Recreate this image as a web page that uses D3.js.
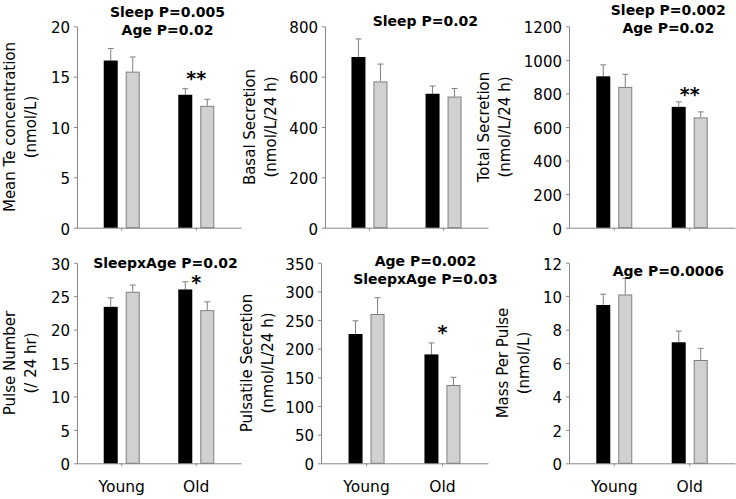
<!DOCTYPE html>
<html><head><meta charset="utf-8">
<script src="https://cdn.jsdelivr.net/npm/d3@7"></script>
<style>
html,body{margin:0;padding:0;background:#fff;}
svg text{font-family:"DejaVu Sans",Verdana,sans-serif;fill:#000;}
</style></head>
<body>
<svg id="chart" width="736" height="499"></svg>
<script>
// ---------- data ----------
const categories = ["Young", "Old"];
const seriesNames = ["Condition 1", "Condition 2"];   // black, gray bars

const meanTeBlack = [16.6, 13.2],  meanTeGray = [15.5, 12.1];
const meanTeErrBlack = [1.2, 0.6], meanTeErrGray = [1.45, 0.65];

const basalBlack = [678, 532],     basalGray = [581, 521];
const basalErrBlack = [72, 31],    basalErrGray = [69, 32];

const totalBlack = [902, 720],     totalGray = [839, 657];
const totalErrBlack = [68, 30],    totalErrGray = [75, 33];

const pulseNumBlack = [23.4, 26.0],   pulseNumGray = [25.65, 22.9];
const pulseNumErrBlack = [1.35, 1.15], pulseNumErrGray = [1.0, 1.25];

const pulsatileBlack = [225.6, 190],  pulsatileGray = [260.5, 136.6];
const pulsatileErrBlack = [23, 20],   pulsatileErrGray = [28.5, 13.5];

const massBlack = [9.47, 7.24],    massGray = [10.1, 6.18];
const massErrBlack = [0.65, 0.67], massErrGray = [0.96, 0.7];

const meanTeTicks = [0, 5, 10, 15, 20];
const basalTicks = [0, 200, 400, 600, 800];
const totalTicks = [0, 200, 400, 600, 800, 1000, 1200];
const pulseNumTicks = [0, 5, 10, 15, 20, 25, 30];
const pulsatileTicks = [0, 50, 100, 150, 200, 250, 300, 350];
const massTicks = [0, 2, 4, 6, 8, 10, 12];

const meanTeTitle = ["Mean Te concentration", "(nmol/L)"];
const basalTitle = ["Basal Secretion", "(nmol/L/24 h)"];
const totalTitle = ["Total Secretion", "(nmol/L/24 h)"];
const pulseNumTitle = ["Pulse Number", "(/ 24 hr)"];
const pulsatileTitle = ["Pulsatile Secretion", "(nmol/L/24 h)"];
const massTitle = ["Mass Per Pulse", "(nmol/L)"];

const meanTeNote = ["Sleep P=0.005", "Age P=0.02"];
const basalNote = ["Sleep P=0.02"];
const totalNote = ["Sleep P=0.002", "Age P=0.02"];
const pulseNumNote = ["SleepxAge P=0.02"];
const pulsatileNote = ["Age P=0.002", "SleepxAge P=0.03"];
const massNote = ["Age P=0.0006"];

// significance stars above the "Old" group: [label, value at baseline]
const meanTeStar = ["**", 14.2];
const totalStar = ["**", 755];
const pulseNumStar = ["*", 26.1];
const pulsatileStar = ["*", 217];

// ---------- panels (data + layout) ----------
const panels = [
  {black: meanTeBlack, gray: meanTeGray, eb: meanTeErrBlack, eg: meanTeErrGray, ticks: meanTeTicks, title: meanTeTitle, note: meanTeNote, star: meanTeStar, xLabels: false},
  {black: basalBlack, gray: basalGray, eb: basalErrBlack, eg: basalErrGray, ticks: basalTicks, title: basalTitle, note: basalNote, star: null, xLabels: false},
  {black: totalBlack, gray: totalGray, eb: totalErrBlack, eg: totalErrGray, ticks: totalTicks, title: totalTitle, note: totalNote, star: totalStar, xLabels: false},
  {black: pulseNumBlack, gray: pulseNumGray, eb: pulseNumErrBlack, eg: pulseNumErrGray, ticks: pulseNumTicks, title: pulseNumTitle, note: pulseNumNote, star: pulseNumStar, xLabels: true},
  {black: pulsatileBlack, gray: pulsatileGray, eb: pulsatileErrBlack, eg: pulsatileErrGray, ticks: pulsatileTicks, title: pulsatileTitle, note: pulsatileNote, star: pulsatileStar, xLabels: true},
  {black: massBlack, gray: massGray, eb: massErrBlack, eg: massErrGray, ticks: massTicks, title: massTitle, note: massNote, star: null, xLabels: true}
];
const layout = [
  {ax: 77,  ae: 241, top: 26.3,  bot: 227.7, tx: 14.5, nx: 167.5, ny: 16.5},
  {ax: 325, ae: 488, top: 26.3,  bot: 227.7, tx: 255,  nx: 425.3, ny: 26},
  {ax: 569, ae: 735, top: 26.3,  bot: 227.7, tx: 489,  nx: 668.3, ny: 15},
  {ax: 77,  ae: 241, top: 262.7, bot: 463.3, tx: 15,   nx: 165.5, ny: 267.5},
  {ax: 321, ae: 488, top: 262.7, bot: 463.3, tx: 252,  nx: 425.5, ny: 266},
  {ax: 569, ae: 735, top: 262.7, bot: 463.3, tx: 508,  nx: 668.3, ny: 275.5}
];

const AXIS = "#868686", GRAYFILL = "#d1d1d1", GRAYSTROKE = "#7f7f7f", ERR = "#7f7f7f";
const svg = d3.select("#chart");

panels.forEach((p, i) => {
  const L = layout[i];
  const g = svg.append("g");
  const y = d3.scaleLinear().domain([p.ticks[0], p.ticks[p.ticks.length - 1]]).range([L.bot, L.top]);
  const x = d3.scaleBand().domain(categories).range([L.ax, L.ae]).paddingInner(0).paddingOuter(0.1);
  const xs = d3.scaleBand().domain(seriesNames).range([-18, 18]).paddingInner(8 / 22).paddingOuter(0);

  // y axis
  const ya = g.append("g").attr("transform", `translate(${L.ax},0)`)
    .call(d3.axisLeft(y).tickValues(p.ticks).tickSize(3).tickSizeOuter(0).tickPadding(4).tickFormat(d3.format("d")));
  ya.select(".domain").attr("stroke", AXIS);
  ya.selectAll(".tick line").attr("stroke", AXIS);
  ya.selectAll(".tick text").attr("font-size", 15).attr("font-family", "DejaVu Sans").attr("fill", "#000").attr("dy", "0.42em");

  // x axis
  const xa = g.append("g").attr("transform", `translate(0,${L.bot})`)
    .call(d3.axisBottom(x).tickSize(3).tickSizeOuter(0).tickPadding(15));
  xa.select(".domain").attr("stroke", AXIS);
  xa.selectAll(".tick line").attr("stroke", AXIS);
  xa.selectAll(".tick text").attr("font-size", 15.5).attr("font-family", "DejaVu Sans").attr("fill", "#000")
    .attr("y", 0).attr("dy", 0).attr("transform", `translate(0,${492 - L.bot})`)
    .style("display", p.xLabels ? null : "none");

  // bars
  const rows = [];
  categories.forEach((c, k) => {
    rows.push({cat: c, s: seriesNames[0], v: p.black[k], e: p.eb[k]});
    rows.push({cat: c, s: seriesNames[1], v: p.gray[k], e: p.eg[k]});
  });
  const cx = d => x(d.cat) + x.bandwidth() / 2 + xs(d.s);

  // error bars (drawn behind bars; upward only)
  const eg = g.append("g");
  rows.forEach(d => {
    const mx = cx(d) + xs.bandwidth() / 2;
    eg.append("line").attr("x1", mx).attr("x2", mx).attr("y1", y(d.v)).attr("y2", y(d.v + d.e))
      .attr("stroke", ERR).attr("stroke-width", 1);
    eg.append("line").attr("x1", mx - 3).attr("x2", mx + 3).attr("y1", y(d.v + d.e)).attr("y2", y(d.v + d.e))
      .attr("stroke", ERR).attr("stroke-width", 1);
  });

  g.append("g").selectAll("rect").data(rows).join("rect")
    .attr("x", d => cx(d) + (d.s === seriesNames[1] ? 0.5 : 0))
    .attr("y", d => y(d.v) + (d.s === seriesNames[1] ? 0.5 : 0))
    .attr("width", d => xs.bandwidth() - (d.s === seriesNames[1] ? 1 : 0))
    .attr("height", d => y(0) - y(d.v) - (d.s === seriesNames[1] ? 0.5 : 0))
    .attr("fill", d => d.s === seriesNames[0] ? "#000" : GRAYFILL)
    .attr("stroke", d => d.s === seriesNames[0] ? "none" : GRAYSTROKE)
    .attr("stroke-width", 1);

  // axis title (rotated, two lines)
  const cy = (L.top + L.bot) / 2;
  p.title.forEach((t, j) => {
    g.append("text").attr("transform", `translate(${L.tx + j * 21},${cy}) rotate(-90)`)
      .attr("text-anchor", "middle").attr("font-size", 15).text(t);
  });

  // statistics note
  p.note.forEach((t, j) => {
    g.append("text").attr("x", L.nx).attr("y", L.ny + j * 18)
      .attr("text-anchor", "middle").attr("font-size", 14).attr("font-weight", "bold").text(t);
  });

  // stars
  if (p.star) {
    g.append("text").attr("x", x("Old") + x.bandwidth() / 2).attr("y", y(p.star[1]))
      .attr("text-anchor", "middle").attr("font-size", 19).attr("font-weight", "bold").text(p.star[0]);
  }
});
</script>
</body></html>
